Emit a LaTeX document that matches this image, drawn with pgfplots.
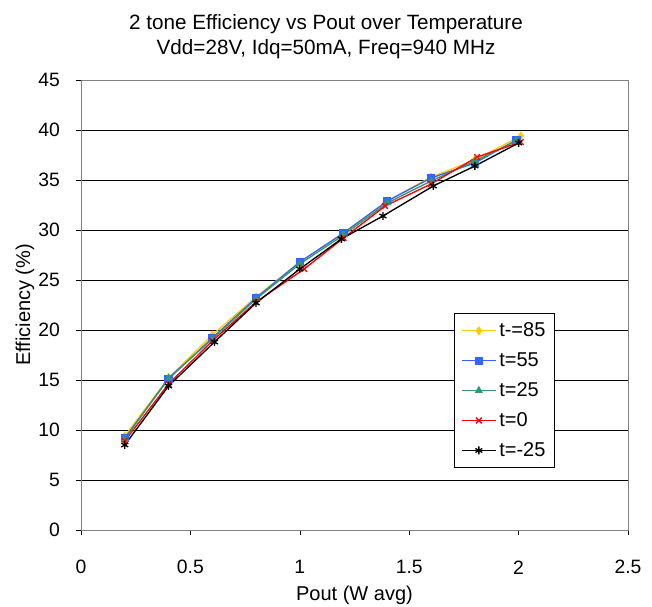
\documentclass[border=0pt]{standalone}
\usepackage{pgfplots}
\pgfplotsset{compat=1.18}
\usepackage{fontspec}
\setmainfont{Liberation Sans}
\definecolor{cY}{RGB}{255,204,0}
\definecolor{cB}{RGB}{51,102,255}
\definecolor{cG}{RGB}{51,153,102}
\definecolor{cR}{RGB}{255,0,0}
\begin{document}
\begin{tikzpicture}[x=1pt,y=1pt]
\path[use as bounding box] (-60.75,-57) rectangle (428.25,397.5);
\begin{axis}[
  at={(0,0)}, anchor=south west,
  scale only axis, width=410.25pt, height=337.5pt,
  xmin=0, xmax=2.5, ymin=0, ymax=45,
  xtick={0,0.5,...,2.5}, ytick={0,5,...,45},
  /pgf/number format/assume math mode=true,
  ticklabel style={font=\fontsize{14.5}{16}\selectfont},
  xticklabel style={anchor=center, yshift=-24pt},
  yticklabel style={anchor=east, xshift=-8.25pt},
  tick align=outside, tick style={black, thin}, major tick length=4pt,
  xtick pos=bottom, ytick pos=left,
  ymajorgrids, grid style={black, line width=0.5pt},
  axis line style={gray, line width=0.6pt},
  xlabel={Pout (W avg)}, ylabel={Efficiency (\%)},
  every axis x label/.style={at={(axis description cs:0.5,0)}, anchor=center, yshift=-48.75pt, font=\fontsize{15}{17}\selectfont},
  every axis y label/.style={at={(axis description cs:0,0.5)}, anchor=center, xshift=-42pt, rotate=90, font=\fontsize{15}{17}\selectfont},
  every axis title/.style={at={(axis description cs:0.448,1)}, anchor=center, yshift=32.2pt, font=\fontsize{15.5}{18.75}\selectfont, align=center},
  title={2 tone Efficiency vs Pout over Temperature\\Vdd=28V, Idq=50mA, Freq=940 MHz},
  legend style={at={(0.682,0.482)}, anchor=north west, draw=black, line width=0.6pt,
    font=\fontsize{15}{17}\selectfont, row sep=6.5pt, inner sep=5pt},
  legend cell align=left,
  legend image code/.code={\draw[mark repeat=2,mark phase=2,#1] plot coordinates {(0cm,0cm)(0.45cm,0cm)(0.9cm,0cm)};},
  every axis plot/.append style={line width=1pt, mark size=2.6pt},
]
\addplot[cY, mark=diamond*, mark options={fill=cY}] coordinates {
(0.2,9.4)(0.4,15.2)(0.6,19.5)(0.8,23.3)(1.0,26.8)(1.2,29.7)(1.4,32.9)(1.6,35.3)(1.8,37.0)(2.01,39.4)};
\addplot[cB, mark=square*, mark options={fill=cB}] coordinates {
(0.2,9.2)(0.4,15.1)(0.6,19.2)(0.8,23.2)(1.0,26.8)(1.2,29.7)(1.4,32.9)(1.6,35.2)(1.8,36.7)(1.99,39.0)};
\addplot[cG, mark=triangle*, mark options={fill=cG}] coordinates {
(0.2,9.1)(0.4,15.2)(0.6,19.1)(0.8,23.1)(1.0,26.6)(1.2,29.5)(1.4,32.7)(1.6,34.9)(1.8,36.9)(1.99,38.9)};
\addplot[cR, mark=x, mark size=3pt] coordinates {
(0.2,8.9)(0.4,14.6)(0.6,18.9)(0.8,22.8)(1.02,26.1)(1.2,29.2)(1.39,32.4)(1.6,34.6)(1.81,37.3)(2.01,38.8)};
\addplot[black, mark=asterisk, mark size=3pt] coordinates {
(0.2,8.5)(0.4,14.4)(0.61,18.8)(0.8,22.7)(1.0,26.1)(1.19,29.1)(1.38,31.4)(1.61,34.4)(1.8,36.4)(2.0,38.7)};
\legend{t-=85,t=55,t=25,t=0,t=-25}
\end{axis}
\end{tikzpicture}
\end{document}
